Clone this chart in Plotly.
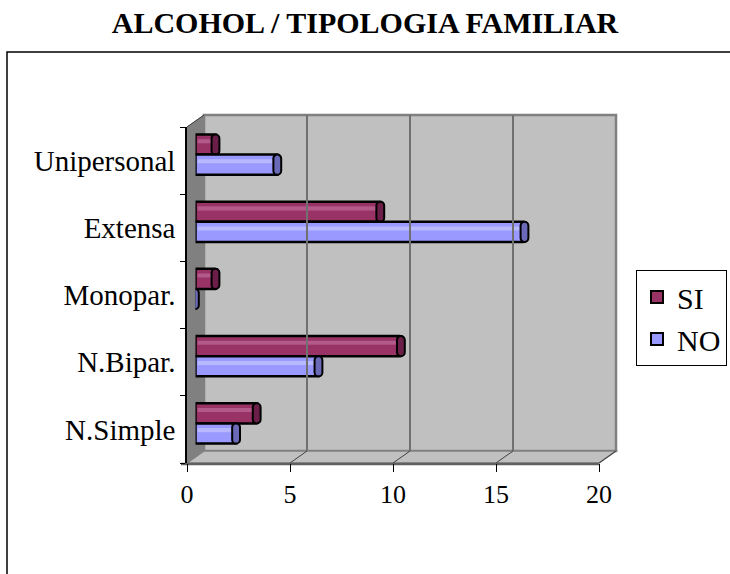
import plotly.graph_objects as go

# ---- data ----
categories = ["N.Simple", "N.Bipar.", "Monopar.", "Extensa", "Unipersonal"]
si_values = [3, 10, 1, 9, 1]
no_values = [2, 6, 0, 16, 4]
x_ticks = [0, 5, 10, 15, 20]
series_names = ["SI", "NO"]

W, H = 730, 574
def fx(p):
    return p / W
def fy(p):
    return 1 - p / H

# geometry of the pseudo-3D box (pixels)
FL, FR, FT, FB = 187, 599, 127, 463      # front plane
DX, DY = 17, -12                          # depth offset to back wall
BL, BR, BT, BB = FL + DX, FR + DX, FT + DY, FB + DY
ML, MR, MT, MB = FL + DX / 2, FR + DX / 2, FT + DY / 2, FB + DY / 2

SERIF = "Liberation Serif, Times New Roman, serif"
SI_COL, SI_HI, SI_CAP = "#993366", "#b35a8a", "#6b1f48"
NO_COL, NO_HI, NO_CAP = "#9999ff", "#b8b8ff", "#6a6ab8"
BARW = 0.3
CAP_BACK, CAP_LEN = 0.22, 0.38

fig = go.Figure()

def add_series(vals, name, col, hi, cap, off, grp):
    fig.add_trace(go.Bar(
        y=categories, x=vals, orientation="h", name=name,
        marker=dict(color=col, line=dict(color="black", width=2.5), cornerradius=5),
        width=BARW, offset=off, xaxis="x2", yaxis="y2", legendgroup=grp,
        showlegend=False,
    ))
    # highlight stripe of the cylinder
    fig.add_trace(go.Bar(
        y=categories, x=[max(v - 0.3, 0) for v in vals], orientation="h",
        marker=dict(color=hi, line=dict(width=0)), width=0.06, offset=off + 0.17,
        base=0.1, xaxis="x2", yaxis="y2", showlegend=False, hoverinfo="skip",
    ))
    # darker end cap
    fig.add_trace(go.Bar(
        y=categories, x=[CAP_LEN] * len(vals), base=[v - CAP_BACK for v in vals],
        orientation="h",
        marker=dict(color=cap, line=dict(color="black", width=2), cornerradius=5),
        width=BARW, offset=off, xaxis="x2", yaxis="y2", showlegend=False,
        hoverinfo="skip",
    ))

add_series(si_values, series_names[0], SI_COL, SI_HI, SI_CAP, 0, "si")
add_series(no_values, series_names[1], NO_COL, NO_HI, NO_CAP, -BARW, "no")

# legend entries with square swatches
for name, col, grp in [(series_names[0], SI_COL, "si"), (series_names[1], NO_COL, "no")]:
    fig.add_trace(go.Bar(y=[None], x=[None], orientation="h", name=name,
                         marker=dict(color=col, line=dict(color="black", width=2)),
                         xaxis="x2", yaxis="y2", legendgroup=grp, showlegend=True))

# invisible anchors for the front axes and back wall grid
fig.add_trace(go.Scatter(y=categories, x=[0] * len(categories), mode="markers",
                         marker=dict(opacity=0), showlegend=False, hoverinfo="skip"))
fig.add_trace(go.Scatter(y=categories, x=[0] * len(categories), mode="markers",
                         marker=dict(opacity=0), showlegend=False, hoverinfo="skip",
                         xaxis="x3", yaxis="y3"))

shapes = []
# back wall
shapes.append(dict(type="rect", xref="paper", yref="paper",
                   x0=fx(BL), x1=fx(BR), y0=fy(BB), y1=fy(BT),
                   fillcolor="#c0c0c0", line=dict(color="#808080", width=2.5), layer="below"))
# left side wall
shapes.append(dict(type="path", xref="paper", yref="paper",
                   path=f"M{fx(FL)},{fy(FT)} L{fx(BL)},{fy(BT)} L{fx(BL)},{fy(BB)} L{fx(FL)},{fy(FB)} Z",
                   fillcolor="#808080", line=dict(color="#808080", width=1), layer="below"))
# floor
shapes.append(dict(type="path", xref="paper", yref="paper",
                   path=f"M{fx(FL)},{fy(FB)} L{fx(BL)},{fy(BB)} L{fx(BR)},{fy(BB)} L{fx(FR)},{fy(FB)} Z",
                   fillcolor="#c0c0c0", line=dict(color="#808080", width=1.5), layer="below"))
# floor diagonals at each tick
for t in x_ticks[1:]:
    xf = FL + (FR - FL) * t / x_ticks[-1]
    xb = BL + (BR - BL) * t / x_ticks[-1]
    shapes.append(dict(type="line", xref="paper", yref="paper",
                       x0=fx(xf), y0=fy(FB), x1=fx(xb), y1=fy(BB),
                       line=dict(color="#404040", width=1), layer="below"))
# top diagonal of side wall
shapes.append(dict(type="line", xref="paper", yref="paper",
                   x0=fx(FL), y0=fy(FT), x1=fx(BL), y1=fy(BT),
                   line=dict(color="#404040", width=1), layer="below"))
# front bottom edge (dark gray)
shapes.append(dict(type="line", xref="paper", yref="paper",
                   x0=fx(FL - 6), y0=fy(FB + 1), x1=fx(FR), y1=fy(FB + 1),
                   line=dict(color="#606060", width=2.5), layer="below"))
# chart-area border (left and top edges visible)
shapes.append(dict(type="path", xref="paper", yref="paper",
                   path=f"M{fx(7)},{fy(600)} L{fx(7)},{fy(52)} L{fx(760)},{fy(52)}",
                   line=dict(color="black", width=1.5), layer="below"))

fig.update_layout(
    width=W, height=H, autosize=False,
    margin=dict(l=0, r=0, t=0, b=0, autoexpand=False),
    paper_bgcolor="white", plot_bgcolor="rgba(0,0,0,0)",
    barmode="overlay",
    font=dict(family=SERIF, size=26, color="black"),
    title=dict(text="<b>ALCOHOL / TIPOLOGIA FAMILIAR</b>", x=0.5, xanchor="center",
               y=fy(22), yanchor="middle", font=dict(family=SERIF, size=30, color="black")),
    shapes=shapes,
    xaxis=dict(domain=[fx(FL), fx(FR)], range=[0, 20], anchor="y",
               tickmode="array", tickvals=x_ticks, ticks="outside", ticklen=8,
               tickcolor="black", showline=False, showgrid=False, zeroline=False,
               automargin=False,
               tickfont=dict(family=SERIF, size=26), fixedrange=True),
    yaxis=dict(domain=[fy(FB), fy(FT)], type="category", categoryorder="array",
               categoryarray=categories, range=[-0.5, len(categories) - 0.5], anchor="x",
               ticks="outside", tickson="boundaries", ticklen=5, tickcolor="black",
               showline=True, linecolor="black", linewidth=1.5, showgrid=False,
               ticklabelstandoff=4, automargin=False,
               tickfont=dict(family=SERIF, size=29), fixedrange=True),
    xaxis2=dict(domain=[fx(ML), fx(MR)], range=[0, 20], anchor="y2", visible=False),
    yaxis2=dict(domain=[fy(MB), fy(MT)], type="category", categoryorder="array",
                categoryarray=categories, range=[-0.5, len(categories) - 0.5],
                anchor="x2", visible=False),
    xaxis3=dict(domain=[fx(BL), fx(BR)], range=[0, 20], anchor="y3",
                tickmode="array", tickvals=x_ticks[1:-1], showgrid=True,
                gridcolor="#707070", gridwidth=1.5, showticklabels=False,
                ticks="", zeroline=False, showline=False),
    yaxis3=dict(domain=[fy(BB), fy(BT)], type="category", categoryorder="array",
                categoryarray=categories, range=[-0.5, len(categories) - 0.5],
                anchor="x3", showgrid=False, showticklabels=False, ticks="",
                zeroline=False, showline=False),
    legend=dict(x=fx(727), y=fy(270), xanchor="right", yanchor="top",
                bordercolor="black", borderwidth=1, bgcolor="white",
                font=dict(family=SERIF, size=30), tracegroupgap=0,
                traceorder="normal", itemwidth=30),
    showlegend=True,
)

fig.write_html("out.html", config={"displayModeBar": False},
               post_script="document.body.style.margin='0';")
